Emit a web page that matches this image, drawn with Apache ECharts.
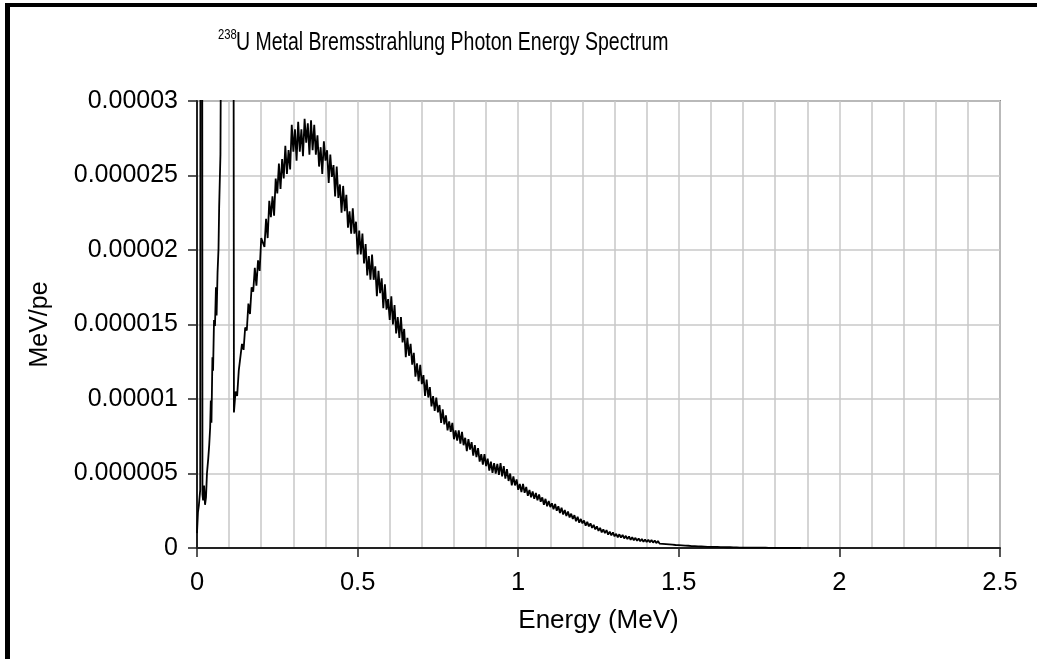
<!DOCTYPE html>
<html>
<head>
<meta charset="utf-8">
<script src="https://cdn.jsdelivr.net/npm/echarts@6/dist/echarts.min.js"></script>
<style>
  html, body { margin: 0; padding: 0; background: #fff; }
  #chart { width: 1037px; height: 659px; }
</style>
</head>
<body>
<div id="chart"></div>
<script>
// ---- data (flux values in units of 1e-6 MeV/pe) ----
const fluxUnit = 1e-6;

// low-energy region (irregular points incl. off-scale x-ray spikes)
const lowEnergy = [0.000, 0.003, 0.006, 0.010, 0.012, 0.015, 0.017, 0.019, 0.022, 0.025,
                   0.028, 0.031, 0.035, 0.038, 0.041, 0.043, 0.045, 0.048, 0.050, 0.053,
                   0.056, 0.059, 0.061, 0.064, 0.067, 0.069, 0.073, 0.079, 0.082, 0.090,
                   0.100, 0.112];
const lowFlux = [1.0, 2.4, 2.9, 3.9, 95, 88, 3.6, 3.2, 4.2, 2.9,
                 3.4, 5.0, 6.0, 6.9, 8.1, 9.9, 8.4, 12.8, 11.9, 15.3,
                 14.9, 17.5, 15.6, 18.5, 20.1, 22.9, 26.4, 26.3, 70, 120,
                 150, 80];

// continuum, 0.005 MeV bins starting at 0.115 MeV
const mainStartEnergy = 0.115;
const mainBinWidth = 0.005;
const mainFlux = [
  9.1, 10.5, 10.2, 11.9, 12.0, 13.7, 13.3, 14.8, 14.6, 16.4,
  15.7, 17.5, 17.2, 18.8, 17.6, 19.3, 18.6, 20.8, 20.5, 20.2,
  22.1, 20.8, 23.3, 22.2, 23.6, 22.3, 24.8, 23.8, 25.8, 24.1,
  26.1, 24.8, 27.0, 25.1, 26.7, 25.4, 28.4, 26.6, 28.1, 26.0,
  28.6, 26.6, 28.1, 26.3, 28.8, 27.2, 28.5, 26.4, 28.7, 26.7,
  28.4, 26.4, 27.7, 25.6, 26.9, 25.1, 27.3, 26.0, 26.7, 24.5,
  26.4, 24.9, 25.7, 23.6, 25.6, 23.5, 24.4, 22.5, 24.3, 22.6,
  23.7, 21.5, 22.6, 21.1, 22.8, 21.1, 21.9, 19.7, 21.3, 19.7,
  21.1, 19.1, 20.4, 18.3, 19.6, 18.0, 19.7, 18.0, 18.9, 16.9,
  18.6, 17.1, 18.1, 16.1, 17.7, 16.0, 16.7, 15.3, 16.9, 15.0,
  16.3, 14.4, 15.5, 14.1, 15.5, 13.8, 14.7, 12.8, 14.1, 12.9,
  13.7, 12.3, 13.1, 11.5, 12.4, 11.2, 12.3, 11.0, 11.6, 10.2,
  11.3, 10.1, 10.8, 9.5, 10.2, 9.2, 10.1, 9.1, 9.6, 8.4,
  9.3, 8.3, 8.9, 7.9, 8.5, 7.8, 8.4, 7.3, 7.9, 7.2,
  7.9, 7.0, 7.8, 6.9, 7.4, 6.5, 7.3, 6.6, 7.1, 6.2,
  6.9, 6.1, 6.7, 5.8, 6.3, 5.6, 6.3, 5.5, 6.0, 5.2,
  5.8, 5.05, 5.7, 5.0, 5.65, 4.9, 5.7, 4.8, 5.5, 4.65,
  5.3, 4.5, 5.0, 4.2, 4.8, 4.2, 4.6, 3.9, 4.3, 3.75,
  4.3, 3.7, 4.1, 3.5, 3.9, 3.4, 3.8, 3.3, 3.7, 3.2,
  3.6, 3.1, 3.4, 2.9, 3.3, 2.8, 3.15, 2.75, 3.0, 2.6,
  2.95, 2.5, 2.8, 2.35, 2.7, 2.25, 2.55, 2.15, 2.45, 2.05,
  2.3, 1.95, 2.2, 1.8, 2.1, 1.7, 1.95, 1.65, 1.85, 1.5,
  1.75, 1.45, 1.65, 1.35, 1.55, 1.25, 1.45, 1.15, 1.35, 1.05,
  1.25, 1.0, 1.2, 0.9, 1.1, 0.85, 1.05, 0.78, 0.95, 0.72,
  0.92, 0.7, 0.88, 0.64, 0.82, 0.6, 0.78, 0.55, 0.72, 0.52,
  0.68, 0.48, 0.64, 0.45, 0.6, 0.42, 0.57, 0.4, 0.55, 0.38,
  0.53, 0.36, 0.5, 0.33, 0.47, 0.3, 0.43, 0.28, 0.41, 0.26,
  0.38, 0.24, 0.36, 0.22, 0.33, 0.2, 0.31, 0.19, 0.3, 0.18,
  0.28, 0.16, 0.26, 0.15, 0.24, 0.13, 0.22, 0.12, 0.21, 0.11,
  0.2, 0.1, 0.19, 0.09, 0.17, 0.08, 0.16, 0.08, 0.15, 0.07,
  0.14, 0.07, 0.13, 0.06, 0.12, 0.06, 0.11, 0.05, 0.1, 0.05,
  0.1, 0.04, 0.09, 0.04, 0.08, 0.03, 0.08, 0.03, 0.07, 0.03,
  0.07, 0.03, 0.06, 0.02, 0.06, 0.02, 0.05, 0.02, 0.05, 0.02,
  0.04, 0.02, 0.04, 0.01, 0.04, 0.01, 0.03, 0.01, 0.03, 0.01,
  0.03, 0.01, 0.03, 0.01, 0.02, 0.01, 0.02, 0.01, 0.02, 0.01,
  0.02, 0.01, 0.02, 0.01
];

const xTickLabels = ['0', '0.5', '1', '1.5', '2', '2.5'];
const yTickLabels = ['0', '0.000005', '0.00001', '0.000015', '0.00002', '0.000025', '0.00003'];
const titleIsotope = '238';
const titleText = 'U Metal Bremsstrahlung Photon Energy Spectrum';
const xAxisTitle = 'Energy (MeV)';
const yAxisTitle = 'MeV/pe';

// ---- build series data ----
const seriesData = lowEnergy.map((e, i) => [e, lowFlux[i] * fluxUnit])
  .concat(mainFlux.map((v, i) => [+(mainStartEnergy + i * mainBinWidth).toFixed(3), v * fluxUnit]));

const FONT = "'Liberation Sans', Arial, sans-serif";
const chart = echarts.init(document.getElementById('chart'), null, { renderer: 'canvas' });

chart.setOption({
  animation: false,
  backgroundColor: '#ffffff',
  textStyle: { fontFamily: FONT },
  graphic: [
    { type: 'rect', shape: { x: 5, y: 3, width: 1032, height: 4 }, style: { fill: '#000' }, silent: true },
    { type: 'rect', shape: { x: 5, y: 3, width: 5, height: 656 }, style: { fill: '#000' }, silent: true },
    { type: 'text', x: 218, y: 27, scaleX: 0.75, silent: true,
      style: { text: titleIsotope, font: '15px ' + FONT, fill: '#000', textAlign: 'left', textVerticalAlign: 'top' } },
    { type: 'text', x: 236, y: 31, scaleX: 0.78, silent: true,
      style: { text: titleText, font: '25px ' + FONT, fill: '#000', textAlign: 'left', textVerticalAlign: 'top' } }
  ],
  grid: {
    left: 197, right: 37, top: 101, bottom: 111,
    show: true, borderColor: '#8c8c8c', borderWidth: 2, backgroundColor: '#fff'
  },
  xAxis: {
    type: 'value',
    min: 0, max: 2.5, interval: 0.5,
    name: xAxisTitle,
    nameLocation: 'middle',
    nameGap: 60,
    nameTextStyle: { fontFamily: FONT, fontSize: 26, color: '#000' },
    axisLine: { show: true, onZero: false, lineStyle: { color: '#222', width: 2 } },
    axisTick: { show: true, inside: false, length: 9, lineStyle: { color: '#222', width: 1.5 } },
    axisLabel: {
      fontFamily: FONT, fontSize: 25.5, color: '#000', margin: 22,
      formatter: v => xTickLabels[Math.round(v / 0.5)]
    },
    splitLine: { show: true, lineStyle: { color: '#c8c8c8', width: 1.5 } },
    minorTick: { show: false, splitNumber: 5 },
    minorSplitLine: { show: true, lineStyle: { color: '#c8c8c8', width: 1.5 } }
  },
  yAxis: {
    type: 'value',
    min: 0, max: 0.00003, interval: 0.000005,
    name: yAxisTitle,
    nameLocation: 'middle',
    nameRotate: 90,
    nameGap: 144,
    nameTextStyle: { fontFamily: FONT, fontSize: 25, color: '#000' },
    axisLine: { show: true, lineStyle: { color: '#222', width: 2 } },
    axisTick: { show: true, inside: false, length: 9, lineStyle: { color: '#222', width: 1.5 } },
    axisLabel: {
      fontFamily: FONT, fontSize: 25, color: '#000', margin: 19,
      formatter: v => yTickLabels[Math.round(v / 0.000005)]
    },
    splitLine: { show: true, lineStyle: { color: '#c8c8c8', width: 1.5 } }
  },
  series: [{
    type: 'line',
    data: seriesData,
    showSymbol: false,
    symbol: 'none',
    clip: true,
    sampling: 'none',
    lineStyle: { color: '#000', width: 1.8 },
    emphasis: { disabled: true }
  }]
});
</script>
</body>
</html>
